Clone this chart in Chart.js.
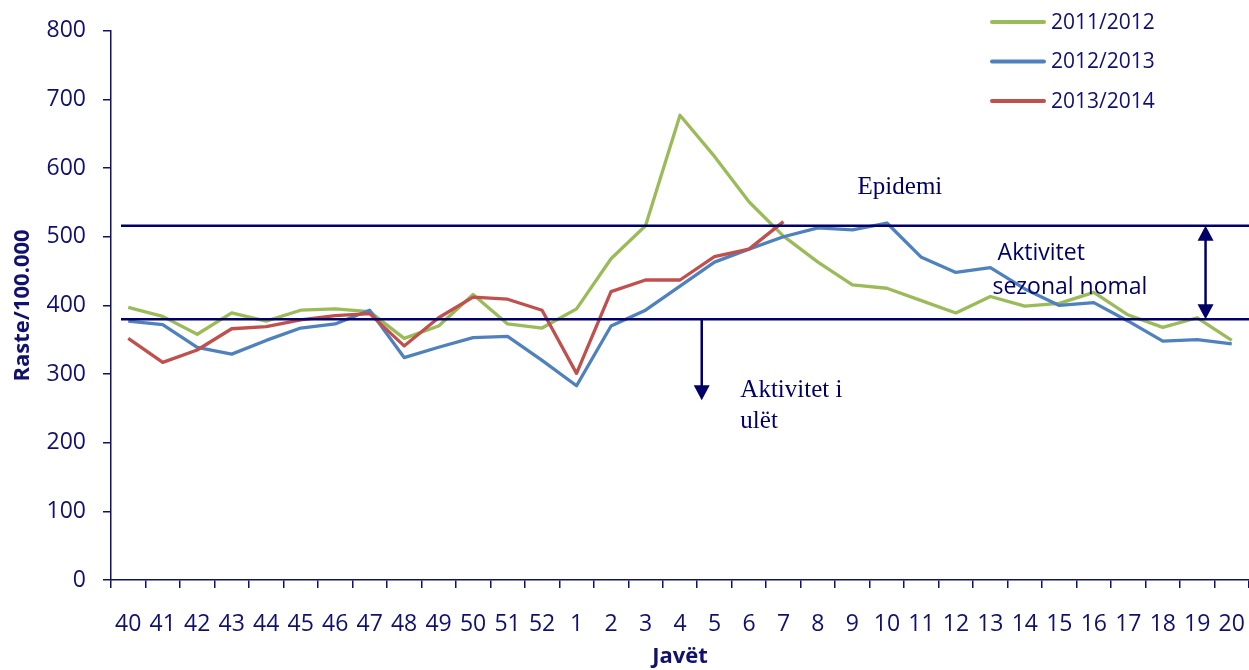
<!DOCTYPE html>
<html>
<head>
<meta charset="utf-8">
<script src="https://cdn.jsdelivr.net/npm/chart.js@4.4.0/dist/chart.umd.min.js"></script>
<style>
    html, body { margin: 0; padding: 0; background: #fff; }
    #wrap { width: 1249px; height: 670px; }
</style>
</head>
<body>
<div id="wrap"><canvas id="grafica" width="1249" height="670"></canvas></div>
<script>
const weeks = ['40', '41', '42', '43', '44', '45', '46', '47', '48', '49', '50', '51', '52',
    '1', '2', '3', '4', '5', '6', '7', '8', '9', '10', '11', '12', '13', '14', '15', '16', '17', '18', '19', '20'];

const season2011 = [397, 384, 358, 389, 377, 393, 395, 391, 352, 370, 416, 373, 367,
    395, 468, 516, 677, 617, 551, 501, 463, 430, 425, 407, 389, 413, 399, 403, 419, 386, 368, 382, 349];
const season2012 = [377, 372, 339, 329, 349, 367, 373, 393, 324, 339, 353, 355, 320,
    283, 370, 393, 428, 463, 482, 500, 513, 510, 520, 470, 448, 455, 424, 400, 404, 377, 348, 350, 344];
const season2013 = [352, 317, 335, 366, 369, 379, 385, 388, 341, 382, 412, 409, 393,
    301, 420, 437, 437, 471, 482, 522];

const seasonLabels = ['2011/2012', '2012/2013', '2013/2014'];
const seasonColors = ['#9BBB59', '#4F81BD', '#C0504D'];

const epidemicLevel = 516;   // Epidemi
const seasonalLevel = 380;   // Aktivitet sezonal

const navy = '#10106e';
const darkNavy = '#000066';
const sans = "'Open Sans', sans-serif";
const serif = "'Liberation Serif', 'Times New Roman', serif";

function drawArrowHead(ctx, x, y, dir) {
    // dir = 1 points down, -1 points up
    ctx.beginPath();
    ctx.moveTo(x, y);
    ctx.lineTo(x - 8, y - dir * 15);
    ctx.lineTo(x + 8, y - dir * 15);
    ctx.closePath();
    ctx.fill();
}

const annotations = {
    id: 'annotations',
    afterDatasetsDraw(chart) {
        const { ctx, chartArea, scales: { x, y } } = chart;
        const yTop = y.getPixelForValue(epidemicLevel);
        const yLow = y.getPixelForValue(seasonalLevel);

        ctx.save();
        ctx.strokeStyle = darkNavy;
        ctx.fillStyle = darkNavy;
        ctx.lineWidth = 2.5;

        // threshold lines
        ctx.beginPath();
        ctx.moveTo(chartArea.left + 10, yTop);
        ctx.lineTo(chartArea.right, yTop);
        ctx.moveTo(chartArea.left + 10, yLow);
        ctx.lineTo(chartArea.right, yLow);
        ctx.stroke();

        // arrow down (low activity)
        const ax = x.getPixelForValue(16.63);
        const aTip = y.getPixelForValue(262);
        ctx.beginPath();
        ctx.moveTo(ax, yLow);
        ctx.lineTo(ax, aTip - 12);
        ctx.stroke();
        drawArrowHead(ctx, ax, aTip, 1);

        // double arrow (seasonal band)
        const bx = x.getPixelForValue(31.24);
        ctx.beginPath();
        ctx.moveTo(bx, yTop + 12);
        ctx.lineTo(bx, yLow - 12);
        ctx.stroke();
        drawArrowHead(ctx, bx, yTop, -1);
        drawArrowHead(ctx, bx, yLow, 1);

        // texts
        ctx.textBaseline = 'alphabetic';
        ctx.textAlign = 'left';
        ctx.fillStyle = darkNavy;
        ctx.font = '25px ' + serif;
        ctx.fillText('Epidemi', x.getPixelForValue(21.15), y.getPixelForValue(563));
        ctx.fillText('Aktivitet i', x.getPixelForValue(17.75), y.getPixelForValue(267));
        ctx.fillText('ulët', x.getPixelForValue(17.75), y.getPixelForValue(222));

        ctx.font = '23px ' + sans;
        ctx.fillText('Aktivitet', x.getPixelForValue(25.21), y.getPixelForValue(466));
        ctx.fillText('sezonal nomal', x.getPixelForValue(25.06), y.getPixelForValue(417));

        // legend
        const lx = chartArea.right - 257;
        ctx.lineCap = 'round';
        ctx.lineWidth = 4;
        ctx.font = '21px ' + sans;
        ctx.textBaseline = 'middle';
        seasonLabels.forEach((label, i) => {
            const ly = 22 + i * 39.5;
            ctx.strokeStyle = seasonColors[i];
            ctx.beginPath();
            ctx.moveTo(lx, ly);
            ctx.lineTo(lx + 52, ly);
            ctx.stroke();
            ctx.fillStyle = navy;
            ctx.fillText(label, lx + 59, ly + 1);
        });
        ctx.restore();
    }
};

const seasons = [season2011, season2012, season2013];

new Chart(document.getElementById('grafica'), {
    type: 'line',
    data: {
        labels: weeks,
        datasets: seasons.map((values, i) => ({
            label: seasonLabels[i],
            data: values,
            borderColor: seasonColors[i],
            backgroundColor: seasonColors[i],
            borderWidth: 3.3,
            borderJoinStyle: 'round',
            pointRadius: 0,
            tension: 0,
            fill: false,
            order: 3 - i
        }))
    },
    options: {
        responsive: false,
        animation: false,
        layout: { padding: { top: 30, right: 0, left: 0, bottom: 0 } },
        plugins: {
            legend: { display: false },
            tooltip: { enabled: false }
        },
        scales: {
            x: {
                offset: true,
                grid: { display: true, drawOnChartArea: false, drawTicks: true, tickLength: 8, offset: true, tickColor: navy, lineWidth: 1.5 },
                border: { display: true, color: navy, width: 1.5 },
                ticks: { color: navy, font: { family: sans, size: 23 }, padding: 23, maxRotation: 0, autoSkip: false },
                title: { display: true, text: 'Javët', color: navy, font: { family: sans, size: 22, weight: 'bold' }, padding: { top: 0, bottom: 0 } },
                afterFit(scale) {
                    scale.height = 90;
                    scale.paddingLeft = 0;
                    scale.paddingRight = 0;
                }
            },
            y: {
                min: 0,
                max: 800,
                grid: { display: true, drawOnChartArea: false, drawTicks: true, tickLength: 8, tickColor: navy, lineWidth: 1.5 },
                border: { display: true, color: navy, width: 1.5 },
                ticks: { stepSize: 100, color: navy, font: { family: sans, size: 23 }, padding: 17 },
                title: { display: true, text: 'Raste/100.000', color: navy, font: { family: sans, size: 22, weight: 'bold' }, padding: { top: 10, bottom: 0 } },
                afterFit(scale) { scale.width = 111; }
            }
        }
    },
    plugins: [annotations]
});
</script>
</body>
</html>
